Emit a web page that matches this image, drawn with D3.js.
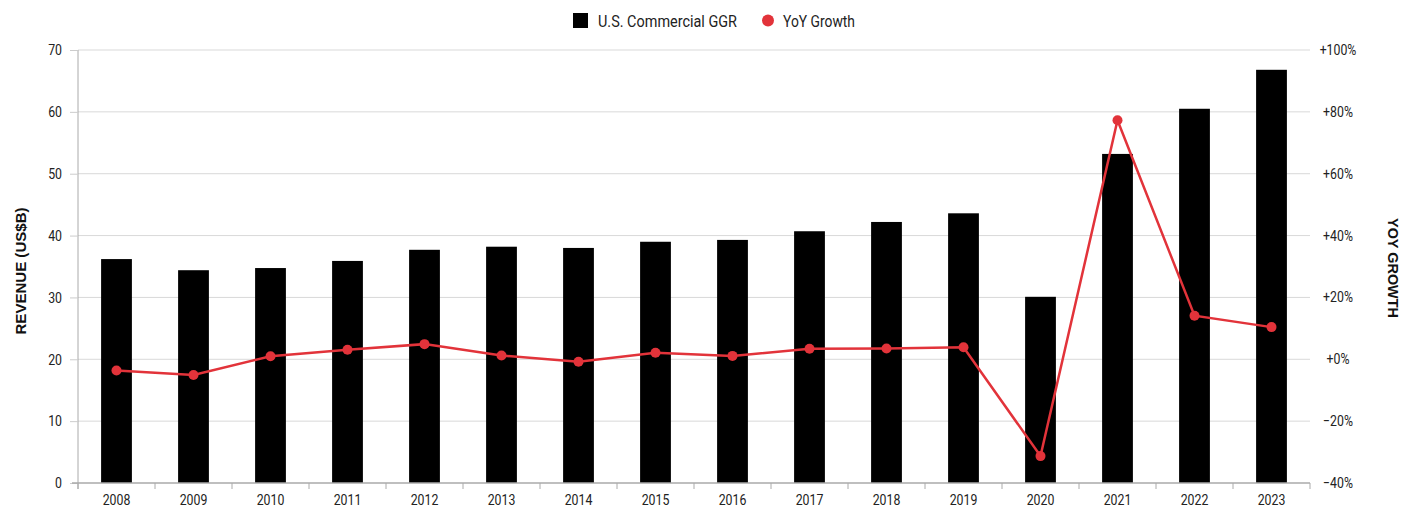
<!DOCTYPE html>
<html>
<head>
<meta charset="utf-8">
<script src="https://cdn.jsdelivr.net/npm/d3@7"></script>
<style>
  body { margin: 0; background: #fff; }
  svg text { font-family: Roboto, "Liberation Sans", sans-serif; fill: #222; }
</style>
</head>
<body>
<svg id="chart" width="1417" height="510"></svg>
<script>
const years = ["2008","2009","2010","2011","2012","2013","2014","2015","2016","2017","2018","2019","2020","2021","2022","2023"];
const revenue = [36.2, 34.4, 34.75, 35.9, 37.7, 38.2, 38.0, 39.0, 39.3, 40.7, 42.2, 43.6, 30.1, 53.2, 60.5, 66.8];
const growth = [-3.6, -5.1, 1.0, 3.1, 4.9, 1.2, -0.8, 2.1, 1.1, 3.4, 3.5, 3.9, -31.3, 77.3, 14.1, 10.4];
const leftTicks = [0, 10, 20, 30, 40, 50, 60, 70];
const rightTicks = [-40, -20, 0, 20, 40, 60, 80, 100];

const svg = d3.select("#chart");
const plotL = 78, plotR = 1310, plotT = 50, plotB = 483;
const red = "#e2333a";

// squeeze text horizontally to mimic the condensed face of the original
function condense(sel, f) {
  sel.each(function () {
    const w = this.getComputedTextLength();
    d3.select(this).attr("textLength", w * f).attr("lengthAdjust", "spacingAndGlyphs");
  });
}

const x = d3.scaleBand().domain(years).range([plotL, plotR]).paddingInner(0.6).paddingOuter(0.3);
const xTicks = d3.scaleBand().domain(years).range([plotL, plotR]);
const yL = d3.scaleLinear().domain([0, 70]).range([plotB, plotT]);
const yR = d3.scaleLinear().domain([-40, 100]).range([plotB, plotT]);

// gridlines
svg.append("g")
  .selectAll("line")
  .data(leftTicks.filter(d => d > 0))
  .enter().append("line")
  .attr("x1", plotL).attr("x2", plotR)
  .attr("y1", d => yL(d)).attr("y2", d => yL(d))
  .attr("stroke", "#d9d9d9").attr("stroke-width", 1);

// left axis
const gL = svg.append("g")
  .attr("transform", `translate(${plotL},0)`)
  .call(d3.axisLeft(yL).tickValues(leftTicks).tickSize(8).tickPadding(8));
gL.select(".domain").attr("stroke", "#aaa").attr("d", `M0,${plotT}V${plotB + 6}`);
gL.selectAll(".tick line").attr("stroke", "#ccc");
gL.selectAll("text").style("font-size", "15px").attr("fill", "#222").call(condense, 0.82);

// right axis labels
svg.append("g")
  .selectAll("text")
  .data(rightTicks)
  .enter().append("text")
  .attr("x", 1338).attr("y", d => yR(d) + 5)
  .attr("text-anchor", "middle")
  .style("font-size", "15px")
  .text(d => (d < 0 ? "\u2212" + Math.abs(d) : "+" + d) + "%")
  .call(condense, 0.82);

// bars
svg.append("g")
  .selectAll("rect")
  .data(years)
  .enter().append("rect")
  .attr("x", d => x(d))
  .attr("width", x.bandwidth())
  .attr("y", (d, i) => yL(revenue[i]))
  .attr("height", (d, i) => plotB - yL(revenue[i]))
  .attr("fill", "#000");

// bottom axis
const gB = svg.append("g").attr("transform", `translate(0,${plotB})`);
gB.append("line").attr("x1", plotL - 6).attr("x2", plotR).attr("stroke", "#aaa").attr("stroke-width", 1.5);
gB.selectAll(".tk")
  .data(years.concat(["end"]))
  .enter().append("line")
  .attr("x1", d => d === "end" ? plotR : xTicks(d))
  .attr("x2", d => d === "end" ? plotR : xTicks(d))
  .attr("y1", 0).attr("y2", 6)
  .attr("stroke", "#aaa");
gB.selectAll("text")
  .data(years)
  .enter().append("text")
  .attr("x", d => x(d) + x.bandwidth() / 2)
  .attr("y", 22)
  .attr("text-anchor", "middle")
  .style("font-size", "15px")
  .text(d => d)
  .call(condense, 0.82);

// growth line
const line = d3.line()
  .x((d, i) => x(years[i]) + x.bandwidth() / 2)
  .y(d => yR(d));
svg.append("path")
  .datum(growth)
  .attr("d", line)
  .attr("fill", "none")
  .attr("stroke", red)
  .attr("stroke-width", 2.5);
svg.append("g")
  .selectAll("circle")
  .data(growth)
  .enter().append("circle")
  .attr("cx", (d, i) => x(years[i]) + x.bandwidth() / 2)
  .attr("cy", d => yR(d))
  .attr("r", 5)
  .attr("fill", red);

// axis titles
svg.append("text")
  .attr("transform", "translate(26,271) rotate(-90)")
  .attr("text-anchor", "middle")
  .attr("textLength", 127).attr("lengthAdjust", "spacingAndGlyphs")
  .style("font-size", "15px").style("font-weight", "bold")
  .style("font-family", "'Liberation Sans', Arial, sans-serif")
  .style("fill", "#111")
  .text("REVENUE (US$B)");
svg.append("text")
  .attr("transform", "translate(1388,268) rotate(90)")
  .attr("text-anchor", "middle")
  .attr("textLength", 100).attr("lengthAdjust", "spacingAndGlyphs")
  .style("font-size", "15px").style("font-weight", "bold")
  .style("font-family", "'Liberation Sans', Arial, sans-serif")
  .style("fill", "#111")
  .text("YOY GROWTH");

// legend
const lg = svg.append("g");
lg.append("rect").attr("x", 573).attr("y", 13).attr("width", 15).attr("height", 15).attr("fill", "#000");
lg.append("text").attr("x", 598).attr("y", 27).style("font-size", "17px")
  .attr("textLength", 139).attr("lengthAdjust", "spacingAndGlyphs").text("U.S. Commercial GGR");
lg.append("circle").attr("cx", 768).attr("cy", 20.5).attr("r", 6).attr("fill", red);
lg.append("text").attr("x", 783).attr("y", 27).style("font-size", "17px")
  .attr("textLength", 72).attr("lengthAdjust", "spacingAndGlyphs").text("YoY Growth");
</script>
</body>
</html>
